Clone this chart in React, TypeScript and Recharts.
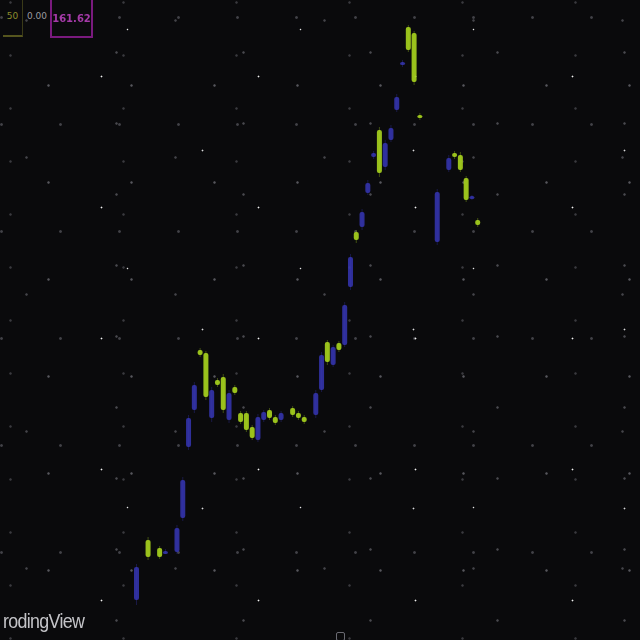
import React from "react";
import { ComposedChart, Bar, XAxis, YAxis } from "recharts";

// slot index along the time axis (gaps are null)
const slots = Array.from({ length: 60 }, (_, i) => String(i + 1));

const opens = [
  88.0, null, 100.0, null, 98.4, 97.6, null, 97.6, 104.4, 118.6,
  126.0, 138.0, 137.4, 124.4, 132.0, 132.6, 124.0, 130.6, 125.4, 125.4,
  122.6, 120.0, 124.0, 126.0, 124.6, 124.0, null, 126.4, 125.4, 124.6,
  null, 125.0, 130.0, 139.6, 135.0, 139.4, 139.0, 150.6, 161.6, 162.6,
  169.4, 176.6, 182.0, 174.6, 180.0, 186.0, 195.0, 202.6, 201.4, 185.0,
  null, null, 159.6, null, 174.0, 177.4, 177.0, 172.4, 168.4, 164.0,
];
const closes = [
  94.6, null, 96.6, null, 96.6, 97.8, null, 102.4, 112.0, 124.4,
  131.0, 137.0, 128.6, 130.0, 131.0, 126.0, 129.4, 129.4, 123.6, 122.0,
  120.4, 124.6, 125.6, 124.4, 123.4, 125.4, null, 125.0, 124.4, 123.6,
  null, 129.4, 137.0, 135.6, 138.6, 138.0, 147.0, 156.6, 160.0, 165.6,
  171.4, 177.4, 173.4, 179.4, 182.4, 188.6, 195.6, 198.0, 191.6, 184.4,
  null, null, 169.6, null, 176.4, 176.6, 174.0, 168.0, 168.8, 163.0,
];
const highs = [
  95.2, null, 100.6, null, 98.8, 98.2, null, 103.0, 112.6, 125.0,
  131.6, 138.4, 137.8, 130.6, 132.4, 133.2, 130.0, 131.0, 125.8, 125.8,
  123.0, 125.2, 126.0, 126.4, 125.0, 125.8, null, 126.8, 125.8, 125.0,
  null, 130.0, 137.6, 140.0, 139.0, 139.8, 147.6, 157.2, 162.0, 166.2,
  172.0, 177.8, 182.6, 180.0, 183.0, 189.2, 196.0, 203.0, 201.8, 185.4,
  null, null, 170.2, null, 177.0, 177.8, 177.6, 172.8, 169.0, 164.4,
];
const lows = [
  87.0, null, 96.0, null, 96.2, 97.2, null, 97.2, 103.8, 118.0,
  125.4, 136.6, 128.0, 123.6, 130.6, 125.4, 123.4, 129.0, 123.2, 121.6,
  120.0, 119.6, 123.6, 124.0, 123.0, 123.6, null, 124.6, 124.0, 123.2,
  null, 124.4, 129.6, 135.0, 134.6, 137.6, 138.6, 150.0, 159.4, 162.0,
  169.0, 176.2, 172.6, 174.0, 179.6, 185.6, 194.6, 197.6, 191.0, 184.0,
  null, null, 159.0, null, 173.6, 176.2, 173.6, 167.6, 168.0, 162.6,
];

const data = slots.map((s, i) => ({
  slot: s,
  open: opens[i],
  close: closes[i],
  high: highs[i],
  low: lows[i],
  range: highs[i] == null ? null : [lows[i], highs[i]],
}));

const UP = "#3636b4";
const DOWN = "#a6d01e";

const Candle = (props: any) => {
  let { x, y, width, height, payload } = props;
  if (!payload || payload.high == null) return null;
  if (height < 0) {
    y = y + height;
    height = -height;
  }
  const up = payload.close >= payload.open;
  const color = up ? UP : DOWN;
  const ppp = height / (payload.high - payload.low || 1);
  const bodyTop = y + (payload.high - Math.max(payload.open, payload.close)) * ppp;
  const bodyH = Math.max(Math.abs(payload.close - payload.open) * ppp, 3);
  const cx = x + width / 2;
  return (
    <g>
      <line x1={cx} x2={cx} y1={y} y2={y + height} stroke={color} strokeOpacity={0.35} strokeWidth={1} />
      <rect x={x} y={bodyTop} width={width} height={bodyH} fill={color} rx={2} fillOpacity={up ? 0.85 : 0.92} />
    </g>
  );
};

const dot = (c: string, r: number) => `radial-gradient(circle, ${c} ${r}px, transparent ${r * 2}px)`;

const starLayers = [
  dot("rgba(255,255,255,0.95)", 0.6),
  dot("rgba(255,255,255,0.85)", 0.6),
  dot("rgba(255,255,255,0.9)", 0.55),
  dot("rgba(160,160,170,0.5)", 0.8),
  dot("rgba(150,150,160,0.45)", 0.8),
  dot("rgba(140,140,150,0.45)", 0.8),
  dot("rgba(150,150,160,0.4)", 0.9),
  dot("rgba(130,130,140,0.4)", 0.8),
];
const starSizes = [
  "157px 131px",
  "211px 179px",
  "173px 239px",
  "83px 97px",
  "127px 71px",
  "149px 137px",
  "59px 107px",
  "113px 53px",
];
const starPos = [
  "23px 11px",
  "97px 61px",
  "41px 149px",
  "7px 37px",
  "53px 17px",
  "101px 89px",
  "31px 71px",
  "67px 29px",
];

export default function App() {
  return (
    <div
      style={{
        position: "fixed",
        left: 0,
        top: 0,
        width: 640,
        height: 640,
        overflow: "hidden",
        backgroundColor: "#0a0a0c",
        backgroundImage: starLayers.join(","),
        backgroundSize: starSizes.join(","),
        backgroundPosition: starPos.join(","),
        fontFamily: "'DejaVu Sans', sans-serif",
      }}
    >
      <div style={{ position: "absolute", left: 0, top: 0, filter: "blur(0.7px)" }}>
        <ComposedChart
          width={640}
          height={640}
          data={data}
          margin={{ top: 0, right: 159, bottom: 0, left: 134 }}
        >
          <XAxis dataKey="slot" hide />
          <YAxis hide domain={[80, 208]} />
          <Bar
            dataKey="range"
            barSize={5}
            shape={<Candle />}
            isAnimationActive={false}
          />
        </ComposedChart>
      </div>

      {/* header boxes */}
      <div
        style={{
          position: "absolute",
          left: 3,
          top: -2,
          width: 19,
          height: 37,
          borderRight: "1px solid #3a3a18",
          borderBottom: "2px solid #55551e",
          color: "#8c8c2c",
          fontSize: 9,
          lineHeight: "37px",
          textAlign: "center",
        }}
      >
        50
      </div>
      <div style={{ position: "absolute", left: 27, top: 11, color: "#9a9aa0", fontSize: 9 }}>0.00</div>
      <div
        style={{
          position: "absolute",
          left: 50,
          top: -2,
          width: 43,
          height: 40,
          border: "2px solid #7a1a7e",
          color: "#a53aa8",
          fontSize: 10,
          fontWeight: "bold",
          lineHeight: "38px",
          textAlign: "center",
          boxSizing: "border-box",
          filter: "blur(0.4px)",
        }}
      >
        161.62
      </div>

      {/* watermark */}
      <div
        style={{
          position: "absolute",
          left: 3,
          top: 609,
          color: "#c4c4c8",
          fontSize: 21,
          fontFamily: "'Liberation Sans', sans-serif",
          letterSpacing: -0.8,
          transform: "scaleX(0.85)",
          transformOrigin: "left top",
          filter: "blur(0.4px)",
          whiteSpace: "nowrap",
        }}
      >
        rodingView
      </div>
      <div
        style={{
          position: "absolute",
          left: 336,
          top: 632,
          width: 9,
          height: 9,
          border: "1px solid #6a6a72",
          borderRadius: 2,
          boxSizing: "border-box",
        }}
      />
    </div>
  );
}
